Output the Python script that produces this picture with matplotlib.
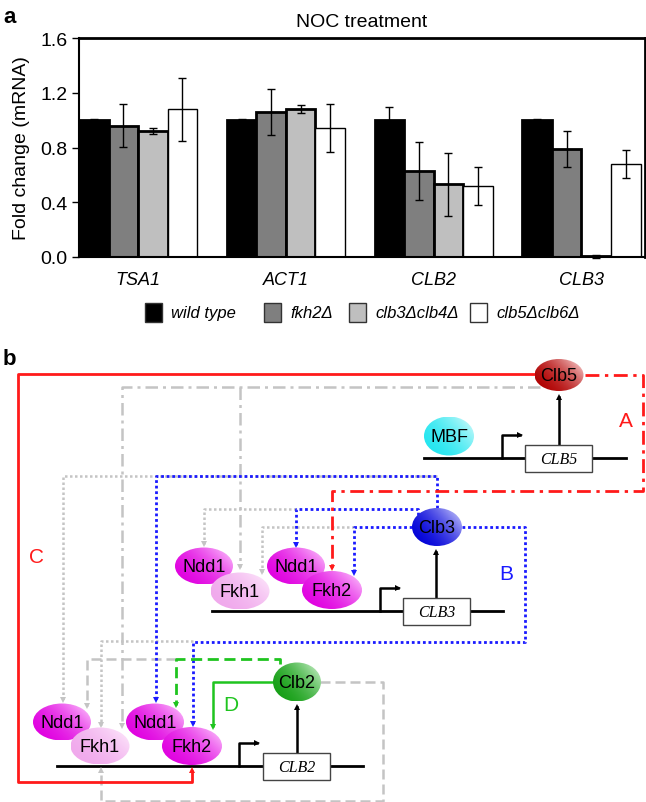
import numpy as np
import matplotlib
matplotlib.use('Agg')
import matplotlib.pyplot as plt
from matplotlib.patches import Ellipse, Rectangle
from matplotlib.colors import to_rgb

plt.rcParams['font.family'] = ['Liberation Sans', 'DejaVu Sans']

# ---- panel a data ----
genes = ['TSA1', 'ACT1', 'CLB2', 'CLB3']
strains = ['wild type', 'fkh2Δ', 'clb3Δclb4Δ', 'clb5Δclb6Δ']
wild_type = [1.00, 1.00, 1.00, 1.00]
wild_type_err = [0.01, 0.01, 0.095, 0.01]
fkh2 = [0.96, 1.06, 0.63, 0.79]
fkh2_err = [0.155, 0.17, 0.21, 0.13]
clb34 = [0.92, 1.08, 0.53, 0.004]
clb34_err = [0.02, 0.03, 0.23, 0.014]
clb56 = [1.08, 0.94, 0.52, 0.68]
clb56_err = [0.23, 0.175, 0.14, 0.10]
bar_colors = ['black', '#7f7f7f', '#bfbfbf', 'white']

W, H = 646, 803
fig = plt.figure(figsize=(W / 100, H / 100), dpi=100)


def px_box(l, t, r, b):
    return [l / W, 1 - b / H, (r - l) / W, (b - t) / H]


# ---- bar chart ----
ax = fig.add_axes(px_box(79, 39, 645, 258))
x = np.arange(len(genes))
width = 0.2
series = [(wild_type, wild_type_err), (fkh2, fkh2_err),
          (clb34, clb34_err), (clb56, clb56_err)]
for i, ((vals, errs), c) in enumerate(zip(series, bar_colors)):
    pos = x + (i - 1.5) * width
    ax.bar(pos, vals, width, color=c, edgecolor='black',
           linewidth=1.0 if c == 'white' else 2.0, zorder=2)
    ax.errorbar(pos, vals, yerr=errs, fmt='none', ecolor='black',
                elinewidth=1, capsize=3, capthick=1, zorder=3, clip_on=False)

ax.set_xlim(-0.4, 3.43)
ax.set_ylim(0, 1.6)
ax.set_yticks([0, 0.4, 0.8, 1.2, 1.6])
ax.set_yticklabels(['0.0', '0.4', '0.8', '1.2', '1.6'])
ax.set_xticks(x)
ax.set_xticklabels(genes, fontstyle='italic')
ax.tick_params(axis='x', length=0, pad=10, labelsize=13)
ax.tick_params(axis='y', direction='out', length=5, width=1, labelsize=14)
for s in ['left', 'bottom']:
    ax.spines[s].set_linewidth(1.5)
for s in ['top', 'right']:
    ax.spines[s].set_linewidth(2)
ax.set_ylabel('Fold change (mRNA)', fontsize=14, labelpad=7)
ax.set_title('NOC treatment', fontsize=14, pad=8.5)

# ---- overlay in pixel coordinates for legend + scheme ----
dax = fig.add_axes([0, 0, 1, 1])
dax.axis('off')

dax.text(3, 23, 'a', fontsize=16, fontweight='bold')
dax.text(3, 365, 'b', fontsize=16, fontweight='bold')

leg_x = [145, 264, 349, 470]
for lx, name, c in zip(leg_x, strains, bar_colors):
    dax.add_patch(Rectangle((lx, 304), 17, 19, facecolor=c, edgecolor='#333333', lw=1))
    dax.text(lx + 26, 314, name, fontsize=12, fontstyle='italic', va='center')

RED = '#ff1a1a'
BLUE = '#1a1aff'
GRAY = '#c4c4c4'
GREEN = '#1fc41f'
DASHDOT = (0, (5, 2, 1.2, 2))
DOTTED = (0, (1, 1))
DASHED = (0, (4, 2))


def path(pts, color, ls, lw=1.8, head=None):
    xs, ys = zip(*pts)
    dax.plot(xs, ys, color=color, ls=ls, lw=lw, zorder=2,
             solid_capstyle='butt', dash_capstyle='butt')
    if head:
        dax.plot(xs[-1], ys[-1], marker=head, color=color, ms=5, mew=0, zorder=3)


# gray (Fkh1 / Clb5 / Clb3 / Clb2 side links)
path([(540, 388), (122, 388), (122, 727)], GRAY, DASHDOT, head='v')
path([(240, 388), (240, 568)], GRAY, DASHDOT, head='v')
path([(437, 477), (63, 477), (63, 701)], GRAY, DOTTED, head='v')
path([(296, 510), (204, 510), (204, 545)], GRAY, DOTTED, head='v')
path([(354, 528), (262, 528), (262, 573)], GRAY, DOTTED, head='v')
path([(193, 642), (101, 642), (101, 726)], GRAY, DOTTED, head='v')
path([(176, 660), (87, 660), (87, 707)], GRAY, DASHED, head='v')
path([(320, 683), (383, 683), (383, 802), (101, 802), (101, 771)], GRAY, DASHED, head='^')

# blue (Clb3)
path([(437, 509), (437, 477), (156, 477), (156, 701)], BLUE, DOTTED, lw=2, head='v')
path([(418, 516), (418, 510), (296, 510), (296, 546)], BLUE, DOTTED, lw=2, head='v')
path([(412, 528), (354, 528), (354, 574)], BLUE, DOTTED, lw=2, head='v')
path([(462, 528), (525, 528), (525, 643), (193, 643), (193, 725)], BLUE, DOTTED, lw=2, head='v')

# red (Clb5)
path([(536, 375), (18, 375), (18, 783), (192, 783), (192, 771)], RED, '-', lw=2, head='^')
path([(585, 376), (643, 376), (643, 492), (332, 492), (332, 569)], RED, DASHDOT, lw=2, head='v')

# green (Clb2)
path([(280, 665), (280, 660), (176, 660), (176, 706)], GREEN, DASHED, lw=2, head='v')
path([(273, 683), (213, 683), (213, 728)], GREEN, '-', lw=1.8, head='v')

# genes: line, promoter arrow, box, product arrow
genes_b = [('CLB5', 424, 626, 459, 502, 525, 559, 394),
           ('CLB3', 212, 503, 612, 380, 403, 436, 549),
           ('CLB2', 57, 363, 767, 239, 263, 297, 704)]
for name, x0, x1, gy, px, bx, ox, oy in genes_b:
    dax.plot([x0, x1], [gy, gy], color='black', lw=2, zorder=2)
    dax.plot([px, px, px + 18], [gy, gy - 23, gy - 23], color='black', lw=1.8, zorder=2)
    dax.plot(px + 18, gy - 23, marker='>', color='black', ms=5, mew=0, zorder=3)
    dax.add_patch(Rectangle((bx, gy - 13.5), 67, 27, facecolor='white',
                            edgecolor='#444444', lw=1, zorder=3))
    dax.text(bx + 33.5, gy + 1, name, fontsize=11.5, fontstyle='italic',
             family='Liberation Serif', ha='center', va='center', zorder=4)
    dax.plot([ox, ox], [gy - 14, oy + 4], color='black', lw=1.8, zorder=2)
    dax.plot(ox, oy + 4, marker='^', color='black', ms=5, mew=0, zorder=3)

# proteins
palettes = {
    'clb5': ('#b00000', '#ffe6e6'),
    'clb3': ('#0000d8', '#dcdcff'),
    'clb2': ('#149e14', '#dcf8dc'),
    'mbf': ('#22e6f0', '#e0fcfc'),
    'mag': ('#e000e0', '#ffd6ff'),
    'fkh1': ('#f0a8ec', '#fff0fd'),
}
blobs = [('Clb5', 559, 376, 49, 32, 'clb5'),
         ('MBF', 449, 437, 50, 39, 'mbf'),
         ('Clb3', 437, 528, 50, 38, 'clb3'),
         ('Ndd1', 204, 567, 58, 37, 'mag'),
         ('Fkh1', 240, 592, 59, 37, 'fkh1'),
         ('Ndd1', 296, 567, 58, 37, 'mag'),
         ('Fkh2', 332, 591, 60, 38, 'mag'),
         ('Clb2', 297, 683, 48, 39, 'clb2'),
         ('Ndd1', 62, 723, 58, 37, 'mag'),
         ('Fkh1', 100, 747, 59, 37, 'fkh1'),
         ('Ndd1', 155, 723, 58, 37, 'mag'),
         ('Fkh2', 192, 747, 60, 38, 'mag')]

u = np.linspace(0, 1, 80)
U, V = np.meshgrid(u, u)
t = np.clip(0.6 * U + 0.4 * (1 - V), 0, 1) ** 2
for k, (label, cx, cy, w, h, pal) in enumerate(blobs):
    dark, light = (np.array(to_rgb(c)) for c in palettes[pal])
    img = dark[None, None, :] + (light - dark)[None, None, :] * t[:, :, None]
    z = 5 + 2 * k
    e = Ellipse((cx, cy), w, h, facecolor='none', edgecolor='none', zorder=z)
    dax.add_patch(e)
    im = dax.imshow(img, extent=(cx - w / 2, cx + w / 2, cy + h / 2, cy - h / 2),
                    origin='upper', aspect='auto', zorder=z, interpolation='bilinear')
    im.set_clip_path(e)
    dax.text(cx, cy + 1, label, fontsize=13, ha='center', va='center', zorder=z + 1)

for txt, tx, ty, c in [('A', 626, 422, RED), ('B', 506, 575, BLUE),
                       ('C', 37, 558, RED), ('D', 231, 706, GREEN)]:
    dax.text(tx, ty, txt, fontsize=15, color=c, ha='center', va='center')

dax.set_xlim(0, W)
dax.set_ylim(H, 0)

fig.savefig('out.png', dpi=100)
